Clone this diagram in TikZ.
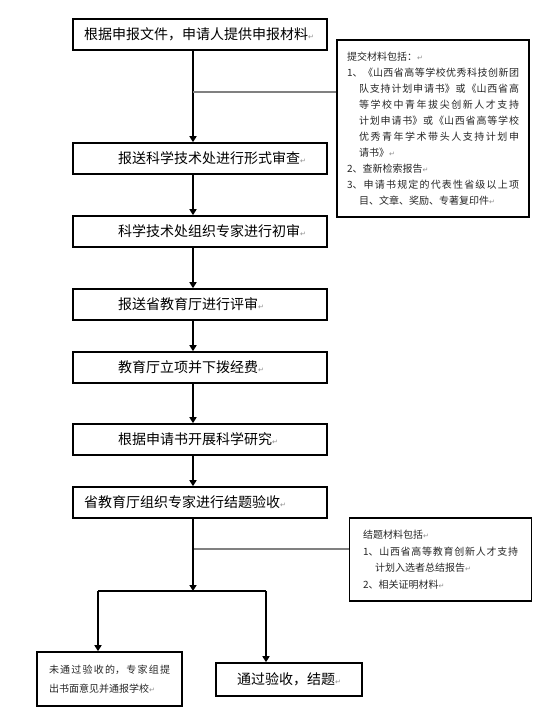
\documentclass[tikz,border=0pt]{standalone}
\usepackage{fontspec}
\setmainfont{Noto Sans CJK SC}
\newfontfamily\markfont{DejaVu Sans}
\usetikzlibrary{arrows.meta}
\XeTeXlinebreaklocale "zh"
\XeTeXlinebreakskip=0pt plus 3pt
\newcommand\retmark{{\markfont\color{black!45}\fontsize{7}{7}\selectfont ↵}}
\newcommand\hangitem{\hangindent=12pt\hangafter=1\relax}
\newcommand\padin{\hspace*{34pt}}

\begin{document}
\begin{tikzpicture}[x=1pt, y=-1pt,
    mainbox/.style={draw, line width=1.6pt, minimum height=31pt, text width=232pt,
                    inner xsep=11pt, align=left, font=\fontsize{14}{16}\selectfont},
    sidebox/.style={draw, line width=1.6pt, align=justify, text=black!85},
    flow/.style={line width=1.6pt, -{Triangle[width=7pt, length=6pt]}},
    link/.style={line width=1.6pt},
    tap/.style={line width=1.6pt, draw=black!50}]
  \useasboundingbox (0, 0) rectangle (552, 722);

  % --- Main column ---
  \node[mainbox] (b1) at (200, 34.5) {根据申报文件，申请人提供申报材料\retmark};
  \node[mainbox] (b2) at (200, 158.5) {\padin 报送科学技术处进行形式审查\retmark};
  \node[mainbox] (b3) at (200, 231.5) {\padin 科学技术处组织专家进行初审\retmark};
  \node[mainbox] (b4) at (200, 304.5) {\padin 报送省教育厅进行评审\retmark};
  \node[mainbox] (b5) at (200, 367.5) {\padin 教育厅立项并下拨经费\retmark};
  \node[mainbox] (b6) at (200, 439.5) {\padin 根据申请书开展科学研究\retmark};
  \node[mainbox] (b7) at (200, 502.5) {省教育厅组织专家进行结题验收\retmark};

  \coordinate (spine) at (193, 0);
  \draw[flow] (b1.south -| spine) -- (b2.north -| spine);
  \draw[flow] (b2.south -| spine) -- (b3.north -| spine);
  \draw[flow] (b3.south -| spine) -- (b4.north -| spine);
  \draw[flow] (b4.south -| spine) -- (b5.north -| spine);
  \draw[flow] (b5.south -| spine) -- (b6.north -| spine);
  \draw[flow] (b6.south -| spine) -- (b7.north -| spine);

  % --- Side notes ---
  \node[sidebox, text width=172pt, inner xsep=10pt, minimum height=177pt,
        font=\fontsize{10}{16}\selectfont] (sideA) at (433, 128.5) {%
    提交材料包括：\retmark\par
    \hangitem 1、《山西省高等学校优秀科技创新团\linebreak
    队支持计划申请书》或《山西省高\linebreak
    等学校中青年拔尖创新人才支持\linebreak
    计划申请书》或《山西省高等学校\linebreak
    优秀青年学术带头人支持计划申\linebreak
    请书》\retmark\par
    \hangitem 2、查新检索报告\retmark\par
    \hangitem 3、申请书规定的代表性省级以上项\linebreak
    目、文章、奖励、专著复印件\retmark\par};
  \node[sidebox, text width=155pt, inner xsep=13.5pt, minimum height=83pt,
        font=\fontsize{10}{16.5}\selectfont] (sideB) at (440.5, 559.5) {%
    结题材料包括\retmark\par
    \hangitem 1、山西省高等教育创新人才支持\linebreak
    计划入选者总结报告\retmark\par
    \hangitem 2、相关证明材料\retmark\par};

  \coordinate (tapA) at (193, 92);
  \coordinate (tapB) at (193, 549);
  \draw[tap] (tapA) -- (tapA -| sideA.west);
  \draw[tap] (tapB) -- (tapB -| sideB.west);

  % --- Outcome of the final check ---
  \node[sidebox, text width=121pt, inner xsep=12pt, minimum height=54pt,
        font=\fontsize{10}{19}\selectfont] (fail) at (109.5, 679) {%
    未通过验收的，专家组提\linebreak
    出书面意见并通报学校\retmark\par};
  \node[draw, line width=1.6pt, minimum width=146pt, minimum height=33pt,
        font=\fontsize{14}{16}\selectfont] (pass) at (289, 679.5) {通过验收，结题\retmark};

  \coordinate (fork) at (193, 591);
  \coordinate (forkL) at (98, 591);
  \coordinate (forkR) at (266, 591);
  \draw[flow] (b7.south -| spine) -- (fork);
  \draw[link] (forkL) -- (forkR);
  \draw[flow] (forkL) -- (fail.north -| forkL);
  \draw[flow] (forkR) -- (pass.north -| forkR);
\end{tikzpicture}
\end{document}
